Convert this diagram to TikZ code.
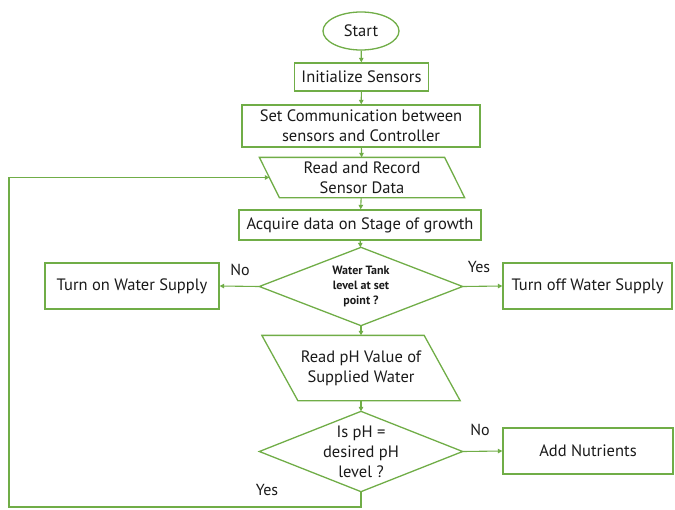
\documentclass[tikz,border=0pt]{standalone}
\usepackage{fontspec}
\setmainfont{PT Sans}
\usetikzlibrary{arrows.meta,calc,shapes.geometric}
\definecolor{gr}{HTML}{70AD47}
\definecolor{txt}{HTML}{1A1A1A}
\begin{document}
\begin{tikzpicture}[x=1pt,y=-1pt,
  base/.style={line width=1.3pt, inner sep=0pt, align=center, text=txt, font=\fontsize{16.5}{20}\selectfont},
  box/.style={base, draw=gr, fill=white, rectangle},
  ghost/.style={base, draw=none, rectangle},
  term/.style={base, draw=gr, fill=white, ellipse},
  outl/.style={draw=gr, line width=1.3pt},
  arr/.style={draw=gr, line width=1.1pt, -{Triangle[length=4.5pt,width=4.5pt]}},
  lbl/.style={text=txt, font=\fontsize{16}{18}\selectfont, inner sep=0pt}
]
\useasboundingbox (0,0) rectangle (675,509);

\node[term, minimum width=76pt, minimum height=38pt] (start) at (361,31) {Start};
\node[box, minimum width=134pt, minimum height=28pt] (init) at (361.5,77) {Initialize Sensors};
\node[box, minimum width=238pt, minimum height=42pt] (comm) at (361,126) {Set Communication between\\sensors and Controller};
\node[ghost, minimum width=184pt, minimum height=39pt] (read) at (362,177.5) {Read and Record\\Sensor Data};
\draw[outl] ($(read.north west)+(-10,0)$) -- ($(read.north east)+(-10,0)$) -- ($(read.south east)+(10,0)$) -- ($(read.south west)+(10,0)$) -- cycle;
\node[box, minimum width=242pt, minimum height=30pt] (acq) at (360,225) {Acquire data on Stage of growth};
\node[ghost, minimum width=202pt, minimum height=77pt, font=\bfseries\fontsize{12}{15}\selectfont] (d1) at (361,286.5) {Water Tank\\level at set\\point ?};
\draw[outl] (d1.west) -- (d1.north) -- (d1.east) -- (d1.south) -- cycle;
\node[box, minimum width=174pt, minimum height=46pt] (on) at (132,286) {Turn on Water Supply};
\node[box, minimum width=169pt, minimum height=46pt] (off) at (587.5,286) {Turn off Water Supply};
\node[ghost, minimum width=161pt, minimum height=64pt] (ph) at (361,368) {Read pH Value of\\Supplied Water};
\draw[outl] ($(ph.north west)+(-18,0)$) -- ($(ph.north east)+(-18,0)$) -- ($(ph.south east)+(18,0)$) -- ($(ph.south west)+(18,0)$) -- cycle;
\node[ghost, minimum width=202pt, minimum height=79pt] (d2) at (361,451.5) {Is pH =\\desired pH\\level ?};
\draw[outl] (d2.west) -- (d2.north) -- (d2.east) -- (d2.south) -- cycle;
\node[box, minimum width=170pt, minimum height=46pt] (nut) at (588,451) {Add Nutrients};
\coordinate (lb) at (9,507);

\draw[arr] (start) -- (init);
\draw[arr] (init) -- (comm);
\draw[arr] (comm) -- (read);
\draw[arr] (read) -- (acq);
\draw[arr] (acq) -- (d1);
\draw[arr] (d1.west) -- (on.east);
\draw[arr] (d1.east) -- (off.west);
\draw[arr] (d1) -- (ph);
\draw[arr] (ph) -- (d2);
\draw[arr] (d2.east) -- (nut.west);
\draw[arr] (d2.south) |- (lb) |- (read.west);

\node[lbl] (lno1) at (240,270) {No};
\node[lbl] (lyes1) at (479,267) {Yes};
\node[lbl] (lno2) at (480,430) {No};
\node[lbl] (lyes2) at (267,490) {Yes};
\end{tikzpicture}
\end{document}
